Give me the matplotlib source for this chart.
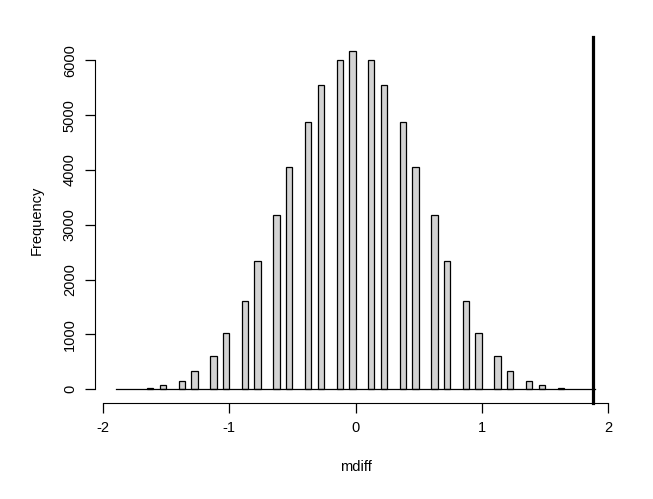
import matplotlib
matplotlib.use("Agg")
import matplotlib.pyplot as plt

left_edges = [-1.65,-1.55,-1.40,-1.30,-1.15,-1.05,-0.90,-0.80,-0.65,-0.55,-0.40,-0.30,-0.15,-0.05,
              0.10,0.20,0.35,0.45,0.60,0.70,0.85,0.95,1.10,1.20,1.35,1.45,1.60]
counts = [15,70,150,330,600,1020,1605,2335,3175,4050,4870,5545,6000,6165,
          6000,5545,4870,4050,3175,2335,1605,1020,600,330,150,70,15]
bin_width = 0.05
observed = 1.88
xticks = [-2,-1,0,1,2]
yticks = [0,1000,2000,3000,4000,5000,6000]

plt.rcParams['font.family'] = ['Liberation Sans', 'DejaVu Sans']
fig = plt.figure(figsize=(6.53,4.99), dpi=100)
ax = fig.add_axes([95/653, (499-403)/499, (616-95)/653, (403-37)/499])
ax.bar(left_edges, counts, width=bin_width, align='edge', color='#d3d3d3', edgecolor='black', linewidth=0.9)
ax.plot([-1.9, 1.9], [0, 0], color='black', lw=0.9)
ax.axvline(observed, color='black', lw=2.3, clip_on=False)
ax.set_xlim(-2.063, 2.063)
ax.set_ylim(-250, 6425)
for s in ['top','right']:
    ax.spines[s].set_visible(False)
ax.spines['left'].set_bounds(0, 6000)
ax.spines['bottom'].set_bounds(-2, 2)
ax.set_xticks(xticks)
ax.set_xticklabels([str(t) for t in xticks])
ax.set_yticks(yticks)
ax.set_yticklabels([str(t) for t in yticks], rotation=90, va='center')
ax.tick_params(length=7, labelsize=10.5, width=0.9, pad=6)
ax.set_xlabel('mdiff', fontsize=10.5, labelpad=18)
ax.set_ylabel('Frequency', fontsize=10.5, labelpad=14)
fig.savefig('out.png', dpi=100)
